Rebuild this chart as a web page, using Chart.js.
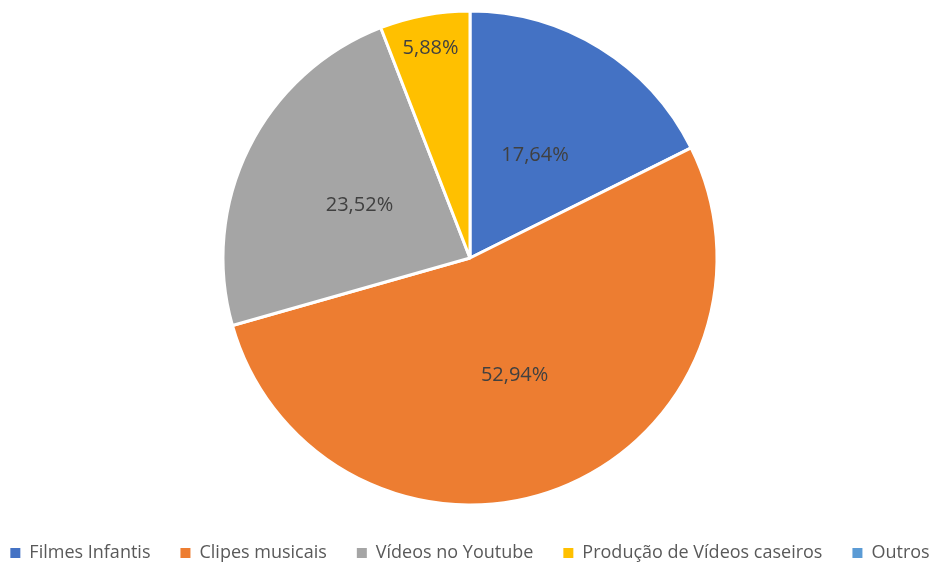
<!DOCTYPE html>
<html>
<head>
<meta charset="utf-8">
<script src="https://cdn.jsdelivr.net/npm/chart.js@4/dist/chart.umd.min.js"></script>
<style>
  html, body { margin: 0; padding: 0; background: #fff; }
  #wrap { position: relative; width: 936px; height: 565px; overflow: hidden; }
  #wrap canvas { position: absolute; left: -32px; top: 2px; }
</style>
</head>
<body>
<div id="wrap"><canvas id="grafico" width="1000" height="570"></canvas></div>
<script>
const categorias = ["Filmes Infantis", "Clipes musicais", "Vídeos no Youtube", "Produção de Vídeos caseiros", "Outros"];
const percentuais = [17.64, 52.94, 23.52, 5.88, 0];
const cores = ["#4472c4", "#ed7d31", "#a5a5a5", "#ffc000", "#5b9bd5"];

// rótulos de porcentagem: no meio da fatia, ou perto da borda se a fatia for estreita
const rotulos = {
  id: 'rotulos',
  afterDatasetsDraw(chart) {
    const ctx = chart.ctx;
    const meta = chart.getDatasetMeta(0);
    ctx.save();
    ctx.font = '20px "Open Sans"';
    ctx.fillStyle = '#404040';
    ctx.textAlign = 'center';
    ctx.textBaseline = 'middle';
    meta.data.forEach((arc, i) => {
      const v = percentuais[i];
      if (!v) return;
      const meio = (arc.startAngle + arc.endAngle) / 2;
      const fator = (arc.endAngle - arc.startAngle) < 0.5 ? 0.87 : 0.5;
      const r = arc.outerRadius * fator;
      const x = arc.x + Math.cos(meio) * r;
      const y = arc.y + Math.sin(meio) * r + 2;
      ctx.fillText(v.toFixed(2).replace('.', ',') + '%', x, y);
    });
    ctx.restore();
  }
};

const grafico = new Chart(document.getElementById('grafico'), {
  type: 'pie',
  data: {
    labels: categorias,
    datasets: [{
      data: percentuais,
      backgroundColor: cores,
      borderColor: '#ffffff',
      borderWidth: 3
    }]
  },
  options: {
    responsive: false,
    animation: false,
    radius: 247,
    layout: { padding: { left: 4, right: 0, top: 0, bottom: 0 } },
    plugins: {
      tooltip: { enabled: false },
      legend: {
        position: 'bottom',
        labels: {
          boxWidth: 10,
          boxHeight: 10,
          padding: 30,
          color: '#595959',
          font: { family: '"Open Sans"', size: 18 },
          generateLabels(chart) {
            const itens = Chart.controllers.pie.overrides.plugins.legend.labels.generateLabels(chart);
            itens.forEach(it => { it.lineWidth = 0; it.strokeStyle = it.fillStyle; });
            return itens;
          }
        }
      }
    }
  },
  plugins: [rotulos]
});
</script>
</body>
</html>
